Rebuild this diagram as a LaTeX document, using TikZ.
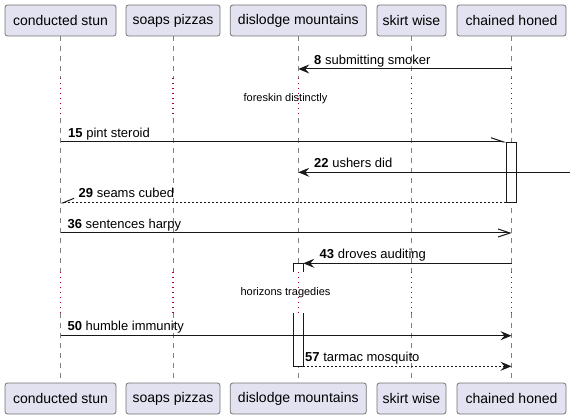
\documentclass[tikz,border=0pt]{standalone}
\usepackage{fontspec}
\setmainfont{Liberation Sans}
\usetikzlibrary{arrows.meta}
\definecolor{pfill}{HTML}{E2E2F0}
\definecolor{pline}{HTML}{181818}
\definecolor{delaydot}{HTML}{A80036}
\begin{document}
\begin{tikzpicture}[x=1pt,y=-1pt,
  part/.style={draw=black!55, fill=pfill, rounded corners=2.5pt, line width=0.8pt,
    minimum height=31pt, inner sep=0pt, font=\fontsize{14}{16}\selectfont},
  life/.style={draw=black!50, dash pattern=on 5pt off 5pt, line width=0.8pt},
  wait/.style={draw=delaydot, dash pattern=on 1.3pt off 3.7pt, line width=1.2pt},
  msg/.style={draw=pline, line width=1pt},
  reply/.style={msg, dash pattern=on 2pt off 2pt},
  full/.style={-{Stealth[length=11pt,width=9pt,inset=4pt]}},
  openhead/.style={-{Straight Barb[length=12pt,width=8pt]}},
  halfup/.style={-{Straight Barb[left,length=12pt,width=8pt]}},
  halfupl/.style={-{Straight Barb[right,length=11pt,width=9pt]}},
  lbl/.style={anchor=base west, inner sep=0pt, font=\fontsize{13}{15}\selectfont},
  note/.style={font=\fontsize{11}{13}\selectfont, inner sep=0pt},
  act/.style={draw=pline, fill=white, line width=1pt}]
\useasboundingbox (0,0) rectangle (575,419);

% participants
\node[part, minimum width=111pt] (tA) at (60.5,20.5) {conducted stun};
\node[part, minimum width=94pt]  (tB) at (173,20.5) {soaps pizzas};
\node[part, minimum width=136pt] (tC) at (298.3,20.5) {dislodge mountains};
\node[part, minimum width=69pt]  (tD) at (411.5,20.5) {skirt wise};
\node[part, minimum width=109pt] (tE) at (511.5,20.5) {chained honed};
\node[part, minimum width=111pt] (bA) at (60.5,398.5) {conducted stun};
\node[part, minimum width=94pt]  (bB) at (173,398.5) {soaps pizzas};
\node[part, minimum width=136pt] (bC) at (298.3,398.5) {dislodge mountains};
\node[part, minimum width=69pt]  (bD) at (411.5,398.5) {skirt wise};
\node[part, minimum width=109pt] (bE) at (511.5,398.5) {chained honed};

% lifelines
\foreach \n in {A,B,C,D,E}{
  \draw[life] (t\n.south) -- (t\n.south |- 0,78);
  \draw[wait] (t\n.south |- 0,78) -- (t\n.south |- 0,118);
  \draw[life] (t\n.south |- 0,118) -- (t\n.south |- 0,272);
  \draw[wait] (t\n.south |- 0,272) -- (t\n.south |- 0,313);
  \draw[life] (t\n.south |- 0,313) -- (b\n.north);
}

% activations
\node[act, minimum width=9.6pt, minimum height=60pt, inner sep=0pt] (actE) at (511.5,172.3) {};
\fill[white] (293.3,263.3) rectangle (303.3,272);
\draw[act] (293.3,272) -- (293.3,263.3) -- (303.3,263.3) -- (303.3,272);
\fill[white] (293.3,313) rectangle (303.3,366.7);
\draw[act] (293.3,313) -- (293.3,366.7) -- (303.3,366.7) -- (303.3,313);
\coordinate (actCtop) at (303.3,263.3);
\coordinate (actCbot) at (303.3,366.3);

% delays
\node[note] (d1) at (285.5,99) {foreskin distinctly};
\node[note] (d2) at (285.5,293) {horizons tragedies};

% messages
\draw[msg,full] (tE |- 0,69) -- (tC |- 0,69);
\node[lbl] (l8) at (314,64.4) {\textbf{8} submitting smoker};

\draw[msg,halfup] (tA |- actE.north) -- (actE.north west);
\node[lbl] (l15) at (68,137.4) {\textbf{15} pint steroid};

\coordinate (ext) at (570,172.3);
\draw[msg,full] (ext) -- (tC |- ext);
\node[lbl] (l22) at (314,167.4) {\textbf{22} ushers did};

\draw[reply,halfupl] (actE.south west) -- (tA |- actE.south);
\node[lbl] (l29) at (78.5,197.4) {\textbf{29} seams cubed};

\draw[msg,openhead] (tA |- 0,233) -- (tE |- 0,233);
\node[lbl] (l36) at (67.4,228.2) {\textbf{36} sentences harpy};

\draw[msg,full] (tE |- actCtop) -- (actCtop);
\node[lbl] (l43) at (319.5,258.4) {\textbf{43} droves auditing};

\draw[msg,full] (tA |- 0,335.7) -- (tE |- 0,335.7);
\node[lbl] (l50) at (67.4,330.8) {\textbf{50} humble immunity};

\draw[reply,full] (actCbot) -- (tE |- actCbot);
\node[lbl] (l57) at (305,361.4) {\textbf{57} tarmac mosquito};
\end{tikzpicture}
\end{document}
